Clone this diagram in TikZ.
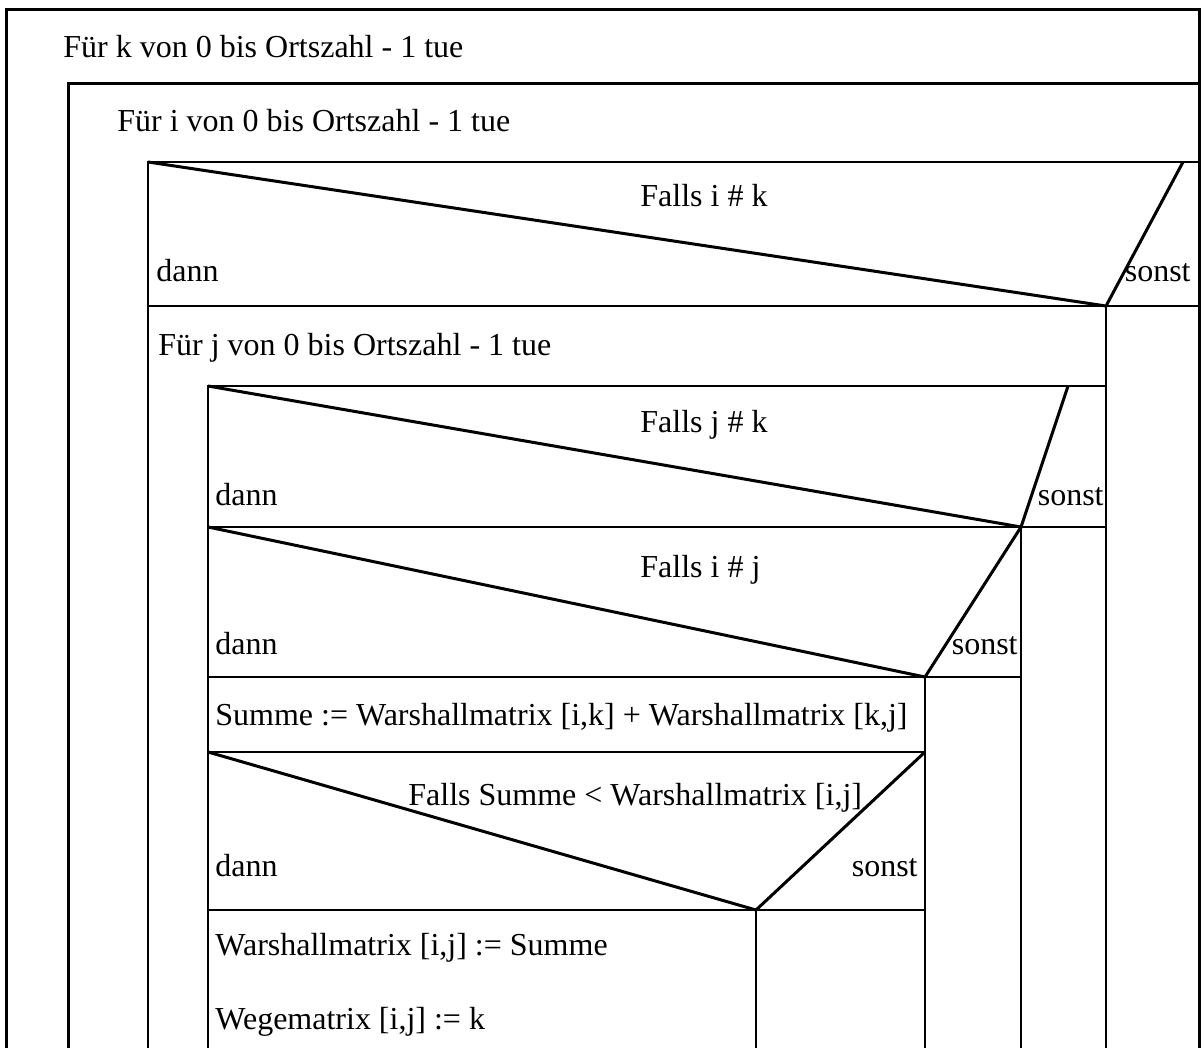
\documentclass[tikz,border=0pt]{standalone}
\usepackage{fontspec}
\setmainfont{Liberation Serif}
\begin{document}
\begin{tikzpicture}[x=0.5pt,y=-0.5pt,
  frame/.style={line width=1.5pt},
  rule/.style={line width=1pt},
  diag/.style={line width=1.5pt},
  lbl/.style={anchor=base west,inner sep=0pt,font=\fontsize{16}{19}\selectfont},
  lblr/.style={anchor=base east,inner sep=0pt,font=\fontsize{16}{19}\selectfont}]
\useasboundingbox (0,0) rectangle (1204,1048);
% outer loop k
\draw[frame] (6,1048) -- (6,10) -- (1199,10) -- (1199,1048);
\node[lbl] (tk) at (63,58) {Für k von 0 bis Ortszahl - 1 tue};
% loop i
\draw[frame] (68,1048) -- (68,84) -- (1199,84);
\node[lbl] (ti) at (117,132) {Für i von 0 bis Ortszahl - 1 tue};
% if i # k
\draw[rule] (148,1048) -- (148,162) -- (1199,162);
\draw[diag] (148,162) -- (1106,306) -- (1183,162);
\draw[rule] (148,306) -- (1199,306);
\draw[rule] (1106,306) -- (1106,1048);
\node[lbl] (c1) at (640,207) {Falls i \# k};
\node[lbl] (d1) at (156,282) {dann};
\node[lblr] (s1) at (1191,282) {sonst};
% loop j
\node[lbl] (tj) at (158,355) {Für j von 0 bis Ortszahl - 1 tue};
\draw[rule] (208,1048) -- (208,386) -- (1106,386);
% if j # k
\draw[diag] (208,386) -- (1021,527) -- (1068,386);
\draw[rule] (208,527) -- (1106,527);
\draw[rule] (1021,527) -- (1021,1048);
\node[lbl] (c2) at (640,432) {Falls j \# k};
\node[lbl] (d2) at (215,505) {dann};
\node[lblr] (s2) at (1104,505) {sonst};
% if i # j
\draw[diag] (208,527) -- (925,677) -- (1021,527);
\draw[rule] (208,677) -- (1021,677);
\draw[rule] (925,677) -- (925,1048);
\node[lbl] (c3) at (640,577) {Falls i \# j};
\node[lbl] (d3) at (215,654) {dann};
\node[lblr] (s3) at (1018,654) {sonst};
% Summe
\node[lbl] (sum) at (215,725) {Summe := Warshallmatrix [i,k] + Warshallmatrix [k,j]};
\draw[rule] (208,752) -- (925,752);
% if Summe
\draw[diag] (208,752) -- (756,910) -- (925,752);
\draw[rule] (208,910) -- (925,910);
\draw[rule] (756,910) -- (756,1048);
\node[lbl] (c4) at (408,805) {Falls Summe < Warshallmatrix [i,j]};
\node[lbl] (d4) at (215,876) {dann};
\node[lblr] (s4) at (918,876) {sonst};
% statements
\node[lbl] (w1) at (215,955) {Warshallmatrix [i,j] := Summe};
\node[lbl] (w2) at (215,1029) {Wegematrix [i,j] := k};
\end{tikzpicture}
\end{document}
